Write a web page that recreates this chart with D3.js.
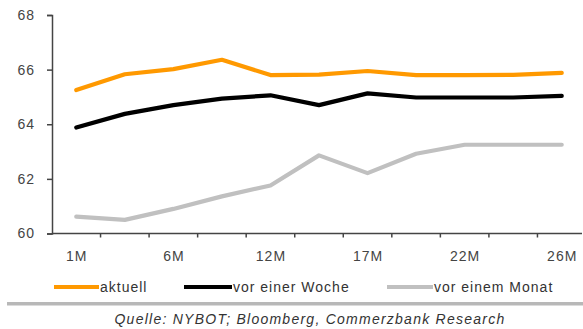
<!DOCTYPE html>
<html>
<head>
<meta charset="utf-8">
<script src="https://cdn.jsdelivr.net/npm/d3@7"></script>
<style>
  html, body { margin: 0; padding: 0; background: #fff; }
  svg { display: block; font-family: "Liberation Sans", Arial, sans-serif; }
  svg text { letter-spacing: 1px; }
</style>
</head>
<body>
<svg id="chart" width="583" height="329"></svg>
<script>
// Forward curve categories (contract months); every other one is labelled
const months = ["1M", "3M", "6M", "9M", "12M", "14M", "17M", "19M", "22M", "24M", "26M"];
const shownLabels = ["1M", "6M", "12M", "17M", "22M", "26M"];
const yTicks = [60, 62, 64, 66, 68];

const aktuell      = [65.25, 65.83, 66.02, 66.36, 65.80, 65.82, 65.95, 65.80, 65.80, 65.81, 65.88];
const vorWoche     = [63.88, 64.38, 64.70, 64.94, 65.06, 64.70, 65.13, 64.98, 64.98, 64.98, 65.04];
const vorMonat     = [60.62, 60.50, 60.90, 61.36, 61.76, 62.86, 62.21, 62.92, 63.25, 63.25, 63.25];

const seriesNames  = ["aktuell", "vor einer Woche", "vor einem Monat"];
const seriesColors = ["#ff9900", "#000000", "#c0c0c0"];
const seriesData   = [aktuell, vorWoche, vorMonat];

const svg = d3.select("#chart");
const plotLeft = 52, plotTop = 15, plotBottom = 233.5, plotRight = 586;
const fontSize = "14px";

const x = d3.scaleBand().domain(months).range([plotLeft, plotRight]).padding(0);
const y = d3.scaleLinear().domain([60, 68]).range([plotBottom, plotTop]);

// Y axis
const yAxis = svg.append("g")
  .attr("transform", `translate(${plotLeft},0)`)
  .call(d3.axisLeft(y).tickValues(yTicks).tickSize(5).tickPadding(12).tickFormat(d3.format("d")));
yAxis.select(".domain").attr("stroke", "#444").attr("stroke-width", 1.5);
yAxis.selectAll(".tick line").attr("stroke", "#444").attr("stroke-width", 1.5);
yAxis.selectAll("text").attr("fill", "#444").style("font-size", fontSize)
  .style("font-family", "'Liberation Sans', Arial, sans-serif");

// X axis: ticks on band boundaries, labels centred on bands
const xAxis = svg.append("g").attr("transform", `translate(0,${plotBottom})`);
xAxis.append("line")
  .attr("x1", plotLeft).attr("x2", 582).attr("y1", 0).attr("y2", 0)
  .attr("stroke", "#444").attr("stroke-width", 1.5);
xAxis.selectAll("line.tick")
  .data(months.slice(1))
  .join("line")
  .attr("class", "tick")
  .attr("x1", d => x(d)).attr("x2", d => x(d))
  .attr("y1", 0).attr("y2", 4)
  .attr("stroke", "#444").attr("stroke-width", 1.5);
xAxis.selectAll("text")
  .data(shownLabels)
  .join("text")
  .attr("x", d => x(d) + x.bandwidth() / 2 + 0.5)
  .attr("y", 27)
  .attr("text-anchor", "middle")
  .attr("fill", "#444")
  .style("font-size", fontSize)
  .text(d => d);

// Series lines
const line = d3.line()
  .x((d, i) => x(months[i]) + x.bandwidth() / 2)
  .y(d => y(d));

// Draw back to front so the current curve sits on top
[2, 1, 0].forEach(k => {
  svg.append("path")
    .datum(seriesData[k])
    .attr("d", line)
    .attr("fill", "none")
    .attr("stroke", seriesColors[k])
    .attr("stroke-width", 4.2)
    .attr("stroke-linejoin", "round")
    .attr("stroke-linecap", "round");
});

// Legend
const legendX = [54, 184, 387];
const legendW = [45, 48, 46];
const legend = svg.append("g");
seriesNames.forEach((name, i) => {
  const g = legend.append("g").attr("transform", `translate(${legendX[i]},287)`);
  g.append("line")
    .attr("x1", 0).attr("x2", legendW[i]).attr("y1", 0).attr("y2", 0)
    .attr("stroke", seriesColors[i]).attr("stroke-width", 4);
  g.append("text")
    .attr("x", legendW[i] + 1).attr("y", 5)
    .attr("fill", "#333")
    .style("font-size", fontSize)
    .text(name);
});

// Divider and source note
svg.append("rect")
  .attr("x", 7).attr("y", 302).attr("width", 576).attr("height", 3.5)
  .attr("fill", "#b8b8b8");
svg.append("text")
  .attr("x", 310).attr("y", 324)
  .attr("text-anchor", "middle")
  .attr("fill", "#333")
  .style("font-size", fontSize)
  .style("letter-spacing", "1.25px")
  .style("font-style", "italic")
  .text("Quelle: NYBOT; Bloomberg, Commerzbank Research");
</script>
</body>
</html>
